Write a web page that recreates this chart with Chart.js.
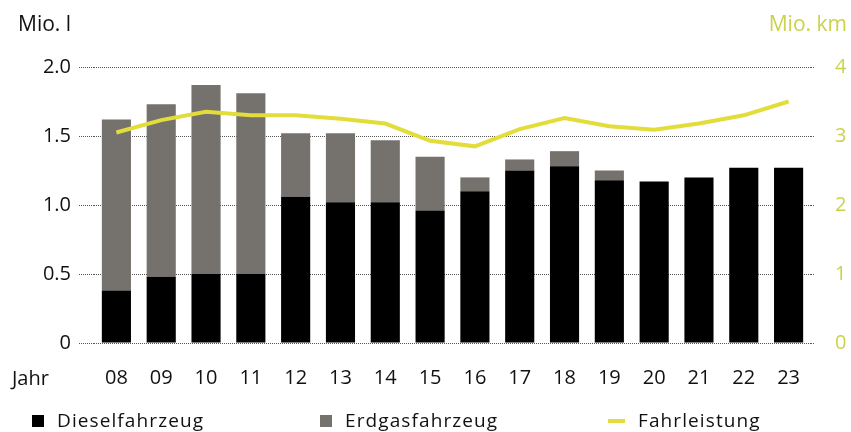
<!DOCTYPE html>
<html>
<head>
<meta charset="utf-8">
<script src="https://cdn.jsdelivr.net/npm/chart.js@4.4.1/dist/chart.umd.min.js"></script>
<style>
  body { margin: 0; background: #fff; font-family: 'Open Sans', sans-serif; color: #111; }
  #wrap { position: relative; width: 851px; height: 432px; }
  .lbl { position: absolute; font-size: 21px; line-height: 1; white-space: nowrap; }
  .leg { position: absolute; top: 410px; font-size: 19px; letter-spacing: 1.1px; line-height: 20px; white-space: nowrap; }
  .sq { position: absolute; width: 12px; height: 12px; top: 415px; }
</style>
</head>
<body>
<div id="wrap">
  <canvas id="chart" width="851" height="432"></canvas>
  <div class="lbl" style="left:18px; top:13px;">Mio. l</div>
  <div class="lbl" style="right:4px; top:13px; color:#cbd24a;">Mio. km</div>
  <div class="lbl" style="left:12px; top:368px; font-size:20px;">Jahr</div>
  <div class="sq" style="left:32px; background:#000;"></div>
  <div class="leg" style="left:57px;">Dieselfahrzeug</div>
  <div class="sq" style="left:320px; background:#75716d;"></div>
  <div class="leg" style="left:345px;">Erdgasfahrzeug</div>
  <div class="sq" style="left:608px; top:419px; width:17px; height:4px; background:#e2dd3b;"></div>
  <div class="leg" style="left:638px;">Fahrleistung</div>
</div>
<script>
// Data
const years = ['08', '09', '10', '11', '12', '13', '14', '15', '16', '17', '18', '19', '20', '21', '22', '23'];
const diesel = [0.38, 0.48, 0.50, 0.50, 1.06, 1.02, 1.02, 0.96, 1.10, 1.25, 1.28, 1.18, 1.17, 1.20, 1.27, 1.27];
const erdgas = [1.24, 1.25, 1.37, 1.31, 0.46, 0.50, 0.45, 0.39, 0.10, 0.08, 0.11, 0.07, 0, 0, 0, 0];
const fahrleistung = [3.05, 3.23, 3.35, 3.30, 3.30, 3.25, 3.18, 2.93, 2.85, 3.10, 3.26, 3.14, 3.09, 3.18, 3.30, 3.50];
const leftTicks = [0, 0.5, 1.0, 1.5, 2.0];
const rightTicks = [0, 1, 2, 3, 4];

const gridGrey = '#555';
const kmColor = '#cbd24a';
const font = { family: "'Open Sans', sans-serif", size: 20 };

const ctx = document.getElementById('chart').getContext('2d');

const data = {
    labels: years,
    datasets: [{
            type: 'line',
            label: 'Fahrleistung',
            data: fahrleistung,
            yAxisID: 'y1',
            borderColor: '#e2dd3b',
            borderWidth: 4,
            pointRadius: 0,
            fill: false,
            tension: 0,
            order: 0
        },
        {
            label: 'Dieselfahrzeug',
            data: diesel,
            backgroundColor: '#000000',
            yAxisID: 'y',
            stack: 'a',
            barPercentage: 0.65,
            categoryPercentage: 1,
            order: 1
        },
        {
            label: 'Erdgasfahrzeug',
            data: erdgas,
            backgroundColor: '#75716d',
            yAxisID: 'y',
            stack: 'a',
            barPercentage: 0.65,
            categoryPercentage: 1,
            order: 1
        }
    ]
};

const config = {
    type: 'bar',
    data: data,
    options: {
        responsive: false,
        animation: false,
        layout: { padding: { top: 67, left: 0, right: 0, bottom: 0 } },
        plugins: {
            legend: { display: false },
            tooltip: { enabled: false }
        },
        scales: {
            x: {
                stacked: true,
                grid: { display: false },
                border: { display: false },
                ticks: { color: '#111', font: font, padding: 15, maxRotation: 0 },
                afterFit: (s) => { s.height = 89; }
            },
            y: {
                stacked: true,
                min: 0,
                max: 2,
                afterBuildTicks: (s) => { s.ticks = leftTicks.map(v => ({ value: v })); },
                ticks: {
                    color: '#111',
                    font: font,
                    padding: 8,
                    callback: (v) => v === 0 ? '0' : v.toFixed(1)
                },
                grid: {
                    color: gridGrey,
                    lineWidth: 1,
                    drawTicks: true,
                    tickLength: 15,
                    tickColor: gridGrey,
                    tickBorderDash: [1, 1]
                },
                border: { display: false, dash: [1, 1] },
                afterFit: (s) => { s.width = 94; }
            },
            y1: {
                position: 'right',
                min: 0,
                max: 4,
                afterBuildTicks: (s) => { s.ticks = rightTicks.map(v => ({ value: v })); },
                ticks: { color: kmColor, font: font, padding: 21 },
                grid: {
                    drawOnChartArea: false,
                    drawTicks: true,
                    tickLength: 3,
                    tickColor: gridGrey,
                    tickBorderDash: [1, 1]
                },
                border: { display: false },
                afterFit: (s) => { s.width = 40; }
            }
        }
    }
};

const chart = new Chart(ctx, config);
</script>
</body>
</html>
